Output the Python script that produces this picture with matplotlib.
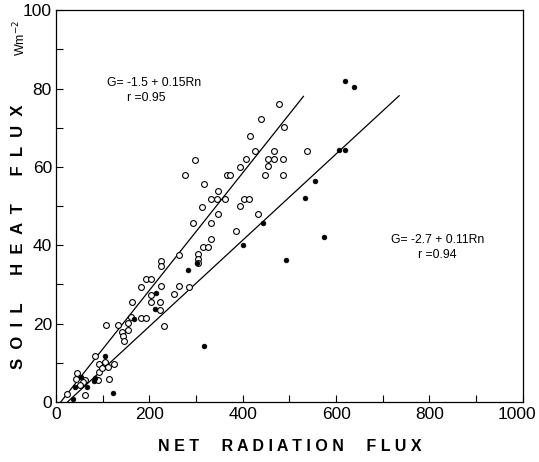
import matplotlib
matplotlib.use("Agg")
import matplotlib.pyplot as plt
import matplotlib.transforms as mtransforms
import numpy as np

# Open circles: net radiation (W m-2) vs soil heat flux (W m-2)
open_rn = [23, 45, 43, 61, 57, 52, 61, 84, 93, 92, 90, 99, 105, 112, 113, 124,
           106, 133, 142, 144, 145, 154, 154, 160, 163, 182, 192, 183, 193, 204,
           203, 203, 224, 224, 224, 222, 222, 231, 253, 264, 264, 285, 294, 304,
           304, 304, 314, 325, 313, 317, 333, 333, 333, 344, 346, 347, 363, 367,
           373, 385, 394, 402, 414, 394, 406, 416, 426, 433, 438, 447, 455, 455,
           467, 467, 477, 487, 487, 489, 537, 277, 297]
open_g = [2.0, 7.5, 5.8, 5.6, 5.0, 4.2, 1.7, 11.8, 9.6, 7.7, 5.6, 8.6, 10.2, 9.0, 5.8, 9.7,
          19.6, 19.6, 17.9, 16.8, 15.6, 20.2, 18.4, 21.8, 25.5, 21.4, 21.4, 29.4, 31.5, 31.5,
          27.3, 25.4, 29.6, 36.0, 34.7, 25.4, 23.5, 19.5, 27.6, 29.6, 37.6, 29.4, 45.6, 37.8,
          36.6, 35.4, 39.6, 39.6, 49.8, 55.7, 41.5, 45.6, 51.8, 51.8, 53.8, 47.9, 51.8, 57.9,
          57.9, 43.6, 50.0, 51.8, 51.8, 60.0, 62.0, 68.0, 64.1, 47.9, 72.2, 57.9, 60.1, 62.0,
          62.0, 64.1, 76.1, 62.0, 57.9, 70.2, 64.1, 57.8, 61.8]

# Filled dots
filled_rn = [36, 40, 54, 66, 81, 84, 104, 122, 168, 211, 214, 283, 302, 318,
             401, 444, 492, 533, 555, 574, 607, 619, 619, 638]
filled_g = [0.7, 3.9, 6.3, 3.9, 5.3, 6.0, 11.8, 2.2, 21.2, 23.8, 27.7, 33.8, 35.4, 14.3,
            40.0, 45.7, 36.2, 52.1, 56.5, 42.0, 64.2, 64.2, 82.0, 80.4]

# Regression fits: G = a + b*Rn, drawn over the range of each set
fit_open = (-1.5, 0.15)
fit_open_range = (10, 530)
fit_filled = (-2.7, 0.11)
fit_filled_range = (25, 735)

x_ticks = list(range(0, 1001, 100))
x_labels = ["0", "", "200", "", "400", "", "600", "", "800", "", "1000"]
y_ticks = list(range(0, 101, 10))
y_labels = ["0", "", "20", "", "40", "", "60", "", "80", "", "100"]

plt.rcParams["font.family"] = ["Liberation Sans", "DejaVu Sans"]

fig = plt.figure(figsize=(5.39, 4.62), dpi=100)
ax = fig.add_axes([0.104, 0.130, 0.866, 0.848])

ax.set_xlim(0, 1000)
ax.set_ylim(0, 100)

for (a, b), (x0, x1) in ((fit_open, fit_open_range), (fit_filled, fit_filled_range)):
    xs = np.array([x0, x1])
    ax.plot(xs, a + b * xs, color="black", lw=0.9, zorder=2)

ax.plot(open_rn, open_g, linestyle="none", marker="o", ms=4.2,
        mfc="white", mec="black", mew=0.8, zorder=3)
ax.plot(filled_rn, filled_g, linestyle="none", marker="o", ms=3.4,
        mfc="black", mec="black", mew=0.5, zorder=4)

ax.set_xticks(x_ticks)
ax.set_xticklabels(x_labels)
ax.set_yticks(y_ticks)
ax.set_yticklabels(y_labels)
ax.tick_params(direction="in", length=5, width=0.8, labelsize=12.5,
               top=False, right=False, pad=4)
ax.tick_params(axis="y", pad=3)
for s in ax.spines.values():
    s.set_linewidth(0.9)

# pull the last x label inward so it stays on the canvas
last = ax.get_xticklabels()[-1]
last.set_transform(last.get_transform() +
                   mtransforms.ScaledTranslation(-6 / 100, 0, fig.dpi_scale_trans))

ax.set_xlabel("N E T     R A D I A T I O N     F L U X", fontsize=11.5,
              fontweight="bold", labelpad=12)
fig.text(0.035, 0.487, "S  O  I  L      H  E  A  T      F  L  U  X", rotation=90,
         ha="center", va="center", fontsize=12, fontweight="bold")
fig.text(0.037, 0.918, "Wm$^{-2}$", rotation=90, ha="center", va="center", fontsize=9)

ax.text(110, 81.4, "G= -1.5 + 0.15Rn", fontsize=8.8, ha="left", va="center")
ax.text(151, 77.5, "r =0.95", fontsize=8.8, ha="left", va="center")
ax.text(718, 41.3, "G= -2.7 + 0.11Rn", fontsize=8.8, ha="left", va="center")
ax.text(776, 37.5, "r =0.94", fontsize=8.8, ha="left", va="center")

fig.savefig("out.png", dpi=100)
